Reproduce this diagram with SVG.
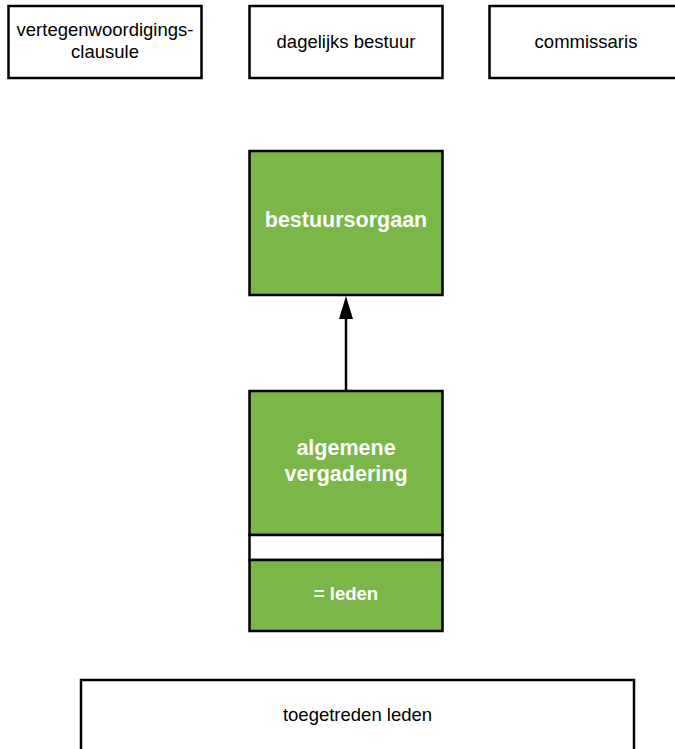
<svg xmlns="http://www.w3.org/2000/svg" width="675" height="749" viewBox="0 0 675 749">
<style>
.box{fill:#ffffff;stroke:#000000;stroke-width:2.5}
.green{fill:#7ab648;stroke:#000000;stroke-width:2.5}
.t{font-family:"Liberation Sans",Arial,sans-serif;font-size:18.5px;fill:#000000;text-anchor:middle}
.w{font-family:"Liberation Sans",Arial,sans-serif;font-weight:bold;fill:#ffffff;text-anchor:middle}
</style>
<rect width="675" height="749" fill="#ffffff"/>
<g id="vertegenwoordigingsclausule">
<rect class="box" x="8.5" y="6" width="193" height="72"/>
<text class="t" x="105" y="36">vertegenwoordigings-</text>
<text class="t" x="105" y="58">clausule</text>
</g>
<g id="dagelijks-bestuur">
<rect class="box" x="249.5" y="6" width="193" height="72"/>
<text class="t" x="346" y="48">dagelijks bestuur</text>
</g>
<g id="commissaris">
<rect class="box" x="489.5" y="6" width="193" height="72"/>
<text class="t" x="586" y="48">commissaris</text>
</g>
<g id="bestuursorgaan">
<rect class="green" x="249.5" y="151" width="193" height="144"/>
<text class="w" x="346" y="227" font-size="21.5">bestuursorgaan</text>
</g>
<g id="algemene-vergadering">
<rect class="green" x="249.5" y="391" width="193" height="144"/>
<rect class="box" x="249.5" y="535" width="193" height="25"/>
<rect class="green" x="249.5" y="560" width="193" height="71"/>
<text class="w" x="346" y="455" font-size="21.5">algemene</text>
<text class="w" x="346" y="481" font-size="21.5">vergadering</text>
<text class="w" x="346" y="600" font-size="18.5">= leden</text>
</g>
<g id="toegetreden-leden">
<rect class="box" x="81" y="680" width="553" height="90"/>
<text class="t" x="357.5" y="721">toegetreden leden</text>
</g>
<g id="connectors">
<line x1="346" y1="391" x2="346" y2="316" stroke="#000" stroke-width="2.5"/>
<path d="M346,296 L353,319 L339,319 Z" fill="#000"/>
</g>
</svg>
